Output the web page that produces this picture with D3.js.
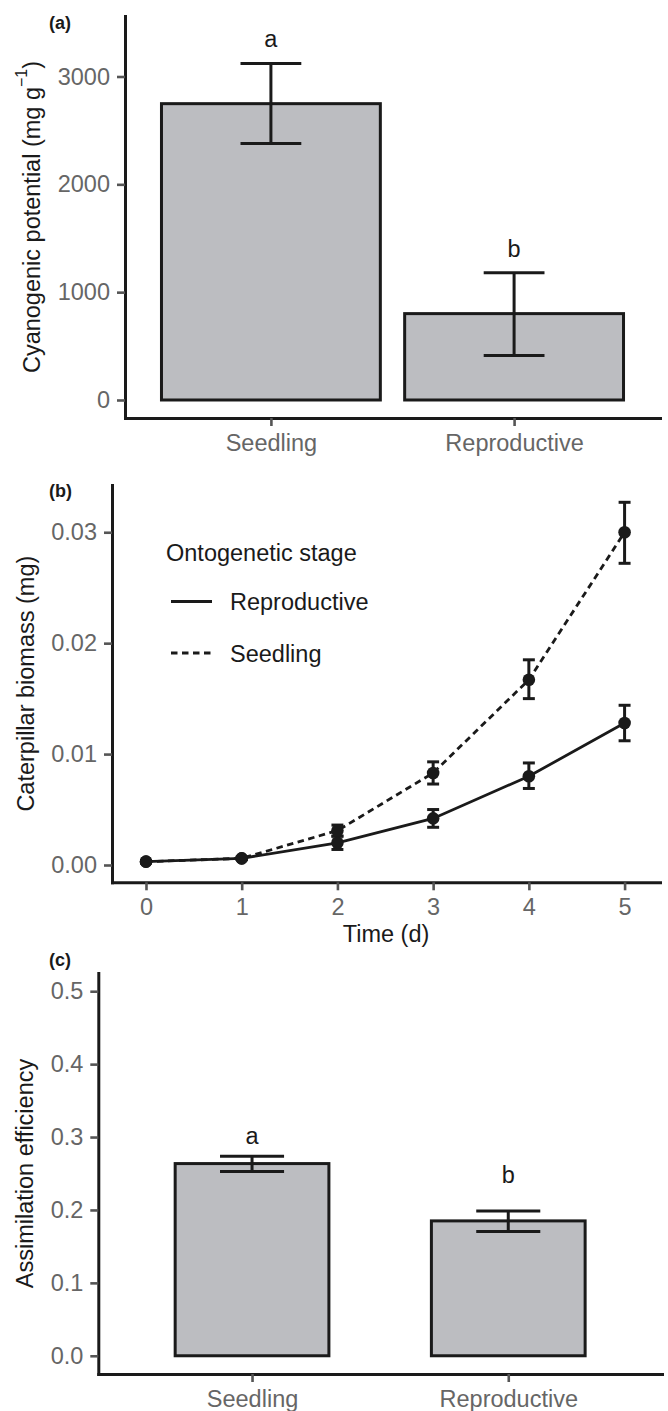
<!DOCTYPE html>
<html>
<head>
<meta charset="utf-8">
<script src="https://cdn.jsdelivr.net/npm/d3@7"></script>
<style>
  html, body { margin: 0; padding: 0; background: #fff; }
  svg { display: block; font-family: "Liberation Sans", Arial, Helvetica, sans-serif; }
  .tick-text { fill: #666; font-size: 23.5px; }
  .axis-title { fill: #1a1a1a; font-size: 23.5px; }
  .panel-tag { fill: #1a1a1a; font-size: 18px; font-weight: bold; }
</style>
</head>
<body>
<div id="chart"></div>
<script>
// panel (a): cyanogenic potential
const stages = ["Seedling", "Reproductive"];
const cyanMean = [2748, 801];
const cyanLow = [2379, 413];
const cyanHigh = [3121, 1180];
const cyanLetters = ["a", "b"];
const cyanLetterY = [3278, 1324];
const cyanTicks = [0, 1000, 2000, 3000];

// panel (b): caterpillar biomass over time
const days = [0, 1, 2, 3, 4, 5];
const reproMass = [0.0003, 0.0006, 0.002, 0.0042, 0.008, 0.0128];
const reproLow = [0.0002, 0.0005, 0.0014, 0.0034, 0.0069, 0.0112];
const reproHigh = [0.0004, 0.0007, 0.0026, 0.005, 0.0092, 0.0144];
const seedMass = [0.0003, 0.0006, 0.0031, 0.0083, 0.0167, 0.03];
const seedLow = [0.0002, 0.0005, 0.0026, 0.0073, 0.015, 0.0272];
const seedHigh = [0.0004, 0.0007, 0.0036, 0.0093, 0.0185, 0.0327];
const massTicks = [0, 0.01, 0.02, 0.03];
const legendTitle = "Ontogenetic stage";

// panel (c): assimilation efficiency
const assimMean = [0.2636, 0.185];
const assimLow = [0.2527, 0.1705];
const assimHigh = [0.2736, 0.1986];
const assimLetters = ["a", "b"];
const assimLetterY = [0.29, 0.2373];
const assimTicks = [0, 0.1, 0.2, 0.3, 0.4, 0.5];

const width = 668;
const height = 1411;
const ink = "#1a1a1a";
const barFill = "#bcbdc1";

const svg = d3
  .select("#chart")
  .append("svg")
  .attr("width", width)
  .attr("height", height)
  .attr("viewBox", `0 0 ${width} ${height}`);

svg.append("rect").attr("width", width).attr("height", height).attr("fill", "#fff");

function styleAxis(group) {
  group.select(".domain").attr("stroke", ink).attr("stroke-width", 3).attr("stroke-linecap", "square");
  group.selectAll(".tick line").attr("stroke", "#555").attr("stroke-width", 2.6);
  group.selectAll(".tick text").attr("class", "tick-text").attr("font-family", null).attr("font-size", null).attr("fill", null);
}

function drawLeftAxis(x0, y, ticks, fmt) {
  svg
    .append("g")
    .attr("transform", `translate(${x0}, 0)`)
    .call(d3.axisLeft(y).tickValues(ticks).tickFormat(fmt).tickSize(8).tickSizeOuter(0).tickPadding(7))
    .call(styleAxis);
}

function drawBottomAxis(y0, x, ticks, fmt) {
  const axis = d3.axisBottom(x).tickSize(8).tickSizeOuter(0).tickPadding(8);
  if (ticks) axis.tickValues(ticks);
  if (fmt) axis.tickFormat(fmt);
  svg.append("g").attr("transform", `translate(0, ${y0})`).call(axis).call(styleAxis);
}

function drawBarPanel(opts) {
  const { left, right, top, bottom, domain, means, lows, highs, letters, letterY, ticks, fmt, barWidth } = opts;
  const x = d3.scalePoint().domain(stages).range([left, right]).padding(0.6);
  const y = d3.scaleLinear().domain(domain).range([bottom, top]);
  const bw = x.step() * barWidth;
  const cap = x.step() * 0.25;
  const rows = stages.map((s, i) => ({ stage: s, mean: means[i], low: lows[i], high: highs[i], letter: letters[i], ly: letterY[i] }));

  svg
    .append("g")
    .selectAll("rect")
    .data(rows)
    .join("rect")
    .attr("x", (d) => x(d.stage) - bw / 2)
    .attr("y", (d) => y(d.mean))
    .attr("width", bw)
    .attr("height", (d) => y(0) - y(d.mean))
    .attr("fill", barFill)
    .attr("stroke", ink)
    .attr("stroke-width", 3);

  const err = svg.append("g").attr("stroke", ink).attr("stroke-width", 3).attr("fill", "none");
  rows.forEach((d) => {
    const cx = x(d.stage);
    err.append("line").attr("x1", cx).attr("x2", cx).attr("y1", y(d.low)).attr("y2", y(d.high));
    err.append("line").attr("x1", cx - cap / 2).attr("x2", cx + cap / 2).attr("y1", y(d.low)).attr("y2", y(d.low));
    err.append("line").attr("x1", cx - cap / 2).attr("x2", cx + cap / 2).attr("y1", y(d.high)).attr("y2", y(d.high));
  });

  svg
    .append("g")
    .selectAll("text")
    .data(rows)
    .join("text")
    .attr("class", "axis-title")
    .attr("x", (d) => x(d.stage))
    .attr("y", (d) => y(d.ly))
    .attr("text-anchor", "middle")
    .text((d) => d.letter);

  drawLeftAxis(left, y, ticks, fmt);
  drawBottomAxis(bottom, x);
  return { x, y };
}

// ---- panel (a)
drawBarPanel({
  left: 125, right: 660, top: 16, bottom: 418,
  domain: [-167, 3561],
  means: cyanMean, lows: cyanLow, highs: cyanHigh,
  letters: cyanLetters, letterY: cyanLetterY,
  ticks: cyanTicks, fmt: d3.format("d"), barWidth: 0.9,
});

svg.append("text").attr("class", "panel-tag").attr("x", 49).attr("y", 29).text("(a)");

const titleA = svg
  .append("text")
  .attr("class", "axis-title")
  .attr("transform", "translate(40, 217) rotate(-90)")
  .attr("text-anchor", "middle");
titleA.append("tspan").text("Cyanogenic potential (mg g");
titleA.append("tspan").attr("dy", -13).attr("font-size", "16px").text("\u22121");
titleA.append("tspan").attr("dy", 13).text(")");

// ---- panel (b)
const bLeft = 112, bRight = 660, bTop = 485, bBottom = 882.3;
const xb = d3.scaleLinear().domain([-0.355, 5.37]).range([bLeft, bRight]);
const yb = d3.scaleLinear().domain([-0.00156, 0.03426]).range([bBottom, bTop]);

const series = [
  { name: "Reproductive", mean: reproMass, low: reproLow, high: reproHigh, dash: null },
  { name: "Seedling", mean: seedMass, low: seedLow, high: seedHigh, dash: "6.5,4.5" },
];

const capB = xb(0.125) - xb(0);
series.forEach((s) => {
  const pts = days.map((d, i) => ({ day: d, mean: s.mean[i], low: s.low[i], high: s.high[i] }));
  const g = svg.append("g");

  const eb = g.append("g").attr("stroke", ink).attr("stroke-width", 3);
  pts.forEach((p) => {
    const cx = xb(p.day);
    eb.append("line").attr("x1", cx).attr("x2", cx).attr("y1", yb(p.low)).attr("y2", yb(p.high));
    eb.append("line").attr("x1", cx - capB / 2).attr("x2", cx + capB / 2).attr("y1", yb(p.low)).attr("y2", yb(p.low));
    eb.append("line").attr("x1", cx - capB / 2).attr("x2", cx + capB / 2).attr("y1", yb(p.high)).attr("y2", yb(p.high));
  });

  g.append("path")
    .datum(pts)
    .attr("fill", "none")
    .attr("stroke", ink)
    .attr("stroke-width", 2.8)
    .attr("stroke-dasharray", s.dash)
    .attr(
      "d",
      d3
        .line()
        .x((d) => xb(d.day))
        .y((d) => yb(d.mean)),
    );

  g.selectAll("circle")
    .data(pts)
    .join("circle")
    .attr("cx", (d) => xb(d.day))
    .attr("cy", (d) => yb(d.mean))
    .attr("r", 6.3)
    .attr("fill", ink);
});

drawLeftAxis(bLeft, yb, massTicks, d3.format(".2f"));
drawBottomAxis(bBottom, xb, days, d3.format("d"));

svg.append("text").attr("class", "panel-tag").attr("x", 49).attr("y", 497).text("(b)");

svg
  .append("text")
  .attr("class", "axis-title")
  .attr("transform", `translate(33.5, ${(bTop + bBottom) / 2}) rotate(-90)`)
  .attr("text-anchor", "middle")
  .text("Caterpillar biomass (mg)");

svg
  .append("text")
  .attr("class", "axis-title")
  .attr("x", (bLeft + bRight) / 2)
  .attr("y", 942)
  .attr("text-anchor", "middle")
  .text("Time (d)");

// legend
const legend = svg.append("g");
legend.append("text").attr("class", "axis-title").attr("x", 166).attr("y", 560.5).text(legendTitle);
series.forEach((s, i) => {
  const ly = 601.5 + i * 51.5;
  legend
    .append("line")
    .attr("x1", 171)
    .attr("x2", 212)
    .attr("y1", ly)
    .attr("y2", ly)
    .attr("stroke", ink)
    .attr("stroke-width", 2.8)
    .attr("stroke-dasharray", s.dash);
  legend
    .append("text")
    .attr("class", "axis-title")
    .attr("x", 230)
    .attr("y", ly + 8.5)
    .text(s.name);
});

// ---- panel (c)
drawBarPanel({
  left: 98.3, right: 662, top: 973, bottom: 1374,
  domain: [-0.025, 0.525],
  means: assimMean, lows: assimLow, highs: assimHigh,
  letters: assimLetters, letterY: assimLetterY,
  ticks: assimTicks, fmt: d3.format(".1f"), barWidth: 0.6,
});

svg.append("text").attr("class", "panel-tag").attr("x", 49).attr("y", 966).text("(c)");

svg
  .append("text")
  .attr("class", "axis-title")
  .attr("transform", "translate(32.5, 1173.5) rotate(-90)")
  .attr("text-anchor", "middle")
  .text("Assimilation efficiency");
</script>
</body>
</html>
